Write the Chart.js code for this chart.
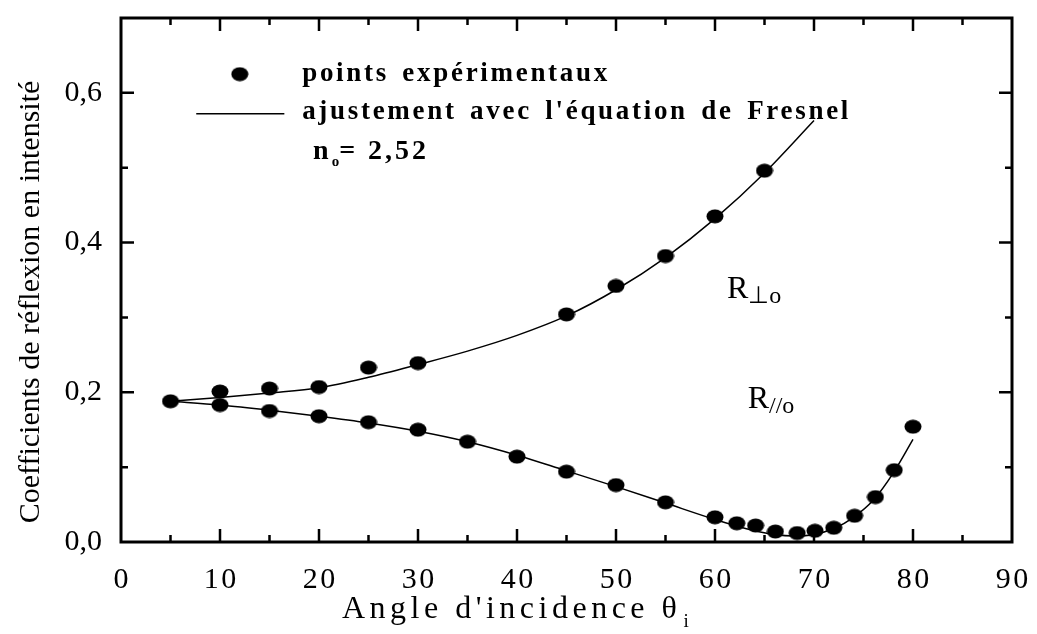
<!DOCTYPE html>
<html lang="fr">
<head>
<meta charset="UTF-8">
<title>Coefficients de réflexion</title>
<script src="https://cdn.jsdelivr.net/npm/chart.js"></script>
<style>
  body { margin: 0; background: #fff; }
  #wrap { width: 1037px; height: 634px; }
</style>
</head>
<body>
<div id="wrap"><canvas id="chart"></canvas></div>
<script>
// measured points (angle in degrees, intensity reflection coefficient)
const perpAngles = [5, 10, 15, 20, 25, 30, 45, 50, 55, 60, 65]
const perpPoints = [0.188, 0.201, 0.205, 0.207, 0.233, 0.239, 0.304, 0.342, 0.382, 0.435, 0.496]

const parAngles = [10, 15, 20, 25, 30, 35, 40, 45, 50, 55, 60, 62.2, 64.1, 66.1, 68.3, 70.1, 72, 74.1, 76.2, 78.1, 80]
const parPoints = [0.183, 0.175, 0.168, 0.160, 0.150, 0.134, 0.114, 0.094, 0.076, 0.053, 0.033, 0.025, 0.022, 0.014, 0.012, 0.015, 0.019, 0.035, 0.060, 0.096, 0.154]

// fitted curves
const perpFitAngles = [5, 10, 15, 20, 25, 30, 35, 40, 45, 50, 55, 60, 65, 70]
const perpFit = [0.188, 0.193, 0.199, 0.206, 0.220, 0.237, 0.255, 0.276, 0.302, 0.337, 0.380, 0.432, 0.493, 0.563]

const parFitAngles = [5, 10, 15, 20, 25, 30, 35, 40, 45, 50, 55, 60, 62, 64, 66, 68, 70, 72, 74, 76, 78, 80]
const parFit = [0.188, 0.183, 0.176, 0.168, 0.159, 0.148, 0.134, 0.116, 0.095, 0.074, 0.052, 0.030, 0.022, 0.015, 0.010, 0.008, 0.010, 0.018, 0.033, 0.056, 0.092, 0.137]

const xTicks = [0, 10, 20, 30, 40, 50, 60, 70, 80, 90]
const yTicks = [0, 0.2, 0.4, 0.6]

const pairs = (xs, ys) => xs.map((x, i) => ({ x, y: ys[i] }))

// slightly flattened dot like the scanned figure
const dot = document.createElement('canvas')
dot.width = 18
dot.height = 15
{
  const c = dot.getContext('2d')
  c.fillStyle = '#000'
  c.beginPath()
  c.ellipse(9, 7.5, 8.5, 7, 0, 0, Math.PI * 2)
  c.fill()
}

const serif = '"Liberation Serif", "Times New Roman", serif'

function sub(ctx, main, small, x, y, bigFont, smallFont, dy) {
  ctx.font = bigFont
  ctx.fillText(main, x, y)
  const w = ctx.measureText(main).width
  ctx.font = smallFont
  ctx.fillText(small, x + w, y + dy)
  return x + w + ctx.measureText(small).width
}

const decorations = {
  id: 'decorations',
  afterDraw(chart) {
    const { ctx, chartArea: a, scales } = chart
    const X = (v) => scales.x.getPixelForValue(v)
    const Y = (v) => scales.y.getPixelForValue(v)
    ctx.save()
    ctx.strokeStyle = '#000'
    ctx.fillStyle = '#000'

    // frame
    ctx.lineWidth = 3
    ctx.strokeRect(a.left, a.top, a.right - a.left, a.bottom - a.top)

    // inward ticks on all sides
    ctx.lineWidth = 2.5
    ctx.beginPath()
    for (let v = 5; v < 90; v += 5) {
      const len = v % 10 === 0 ? 13 : 7
      const px = X(v)
      ctx.moveTo(px, a.bottom); ctx.lineTo(px, a.bottom - len)
      ctx.moveTo(px, a.top); ctx.lineTo(px, a.top + len)
    }
    for (let k = 1; k < 7; k++) {
      const v = k / 10
      const len = k % 2 === 0 ? 13 : 7
      const py = Y(v)
      ctx.moveTo(a.left, py); ctx.lineTo(a.left + len, py)
      ctx.moveTo(a.right, py); ctx.lineTo(a.right - len, py)
    }
    ctx.stroke()

    // legend
    ctx.drawImage(dot, X(12) - 9, Y(0.625) - 7.5)
    ctx.lineWidth = 1.5
    ctx.beginPath()
    ctx.moveTo(X(7.6), Y(0.572)); ctx.lineTo(X(16.5), Y(0.572))
    ctx.stroke()

    ctx.textBaseline = 'middle'
    ctx.textAlign = 'left'
    ctx.letterSpacing = '2.7px'
    ctx.wordSpacing = '4px'
    ctx.font = 'bold 27px ' + serif
    ctx.fillText('points expérimentaux', X(18.3), Y(0.625))
    ctx.fillText("ajustement avec l'équation de Fresnel", X(18.3), Y(0.574))
    ctx.wordSpacing = '0px'

    ctx.letterSpacing = '3px'
    const nx = sub(ctx, 'n', 'o', X(19.4), Y(0.521), 'bold 28px ' + serif, 'bold 15px ' + serif, 10)
    ctx.font = 'bold 28px ' + serif
    ctx.fillText('= 2,52', nx - 3, Y(0.521))

    ctx.letterSpacing = '0px'
    sub(ctx, 'R', '⊥o', X(61.2), Y(0.3375), '32px ' + serif, '24px ' + serif, 7)
    sub(ctx, 'R', '//o', X(63.3), Y(0.19), '32px ' + serif, '24px ' + serif, 7)

    // axis titles
    ctx.font = '30px ' + serif
    ctx.textAlign = 'center'
    ctx.save()
    ctx.translate(31, 302)
    ctx.rotate(-Math.PI / 2)
    ctx.fillText('Coefficients de réflexion en intensité', 0, 0)
    ctx.restore()

    ctx.font = '32px ' + serif
    ctx.letterSpacing = '4.5px'
    ctx.textAlign = 'left'
    const t = "Angle d'incidence θ"
    const tw = ctx.measureText(t).width
    const tx = 342
    ctx.fillText(t, tx, 610)
    ctx.font = '19px ' + serif
    ctx.fillText('i', tx + tw + 2, 622)

    ctx.restore()
  },
}

new Chart(document.getElementById('chart'), {
  type: 'scatter',
  data: {
    datasets: [
      {
        label: 'R⊥o ajustement',
        type: 'line',
        data: pairs(perpFitAngles, perpFit),
        borderColor: '#000',
        borderWidth: 1.5,
        pointRadius: 0,
        cubicInterpolationMode: 'monotone',
        fill: false,
      },
      {
        label: 'R//o ajustement',
        type: 'line',
        data: pairs(parFitAngles, parFit),
        borderColor: '#000',
        borderWidth: 1.5,
        pointRadius: 0,
        cubicInterpolationMode: 'monotone',
        fill: false,
      },
      {
        label: 'R⊥o points',
        data: pairs(perpAngles, perpPoints),
        pointStyle: dot,
      },
      {
        label: 'R//o points',
        data: pairs(parAngles, parPoints),
        pointStyle: dot,
      },
    ],
  },
  options: {
    responsive: true,
    maintainAspectRatio: false,
    animation: false,
    layout: { padding: { top: 18, right: 25, left: 0, bottom: 0 } },
    plugins: { legend: { display: false }, tooltip: { enabled: false } },
    scales: {
      x: {
        type: 'linear',
        min: 0,
        max: 90,
        afterFit: (s) => {
          s.height = 92
          s.paddingLeft = 0
          s.paddingRight = 0
        },
        afterBuildTicks: (s) => { s.ticks = xTicks.map((value) => ({ value })) },
        grid: { display: false, drawTicks: false },
        border: { display: false },
        ticks: {
          color: '#000',
          padding: 20,
          font: { family: serif, size: 30 },
          callback: (v) => String(v).split('').join('\u200A'),
        },
      },
      y: {
        type: 'linear',
        min: 0,
        max: 0.7,
        afterFit: (s) => {
          s.width = 121
          s.paddingTop = 0
          s.paddingBottom = 0
        },
        afterBuildTicks: (s) => { s.ticks = yTicks.map((value) => ({ value })) },
        grid: { display: false, drawTicks: false },
        border: { display: false },
        ticks: {
          color: '#000',
          padding: 19,
          font: { family: serif, size: 30 },
          callback: (v) => v.toFixed(1).replace('.', ','),
        },
      },
    },
  },
  plugins: [decorations],
})
</script>
</body>
</html>
